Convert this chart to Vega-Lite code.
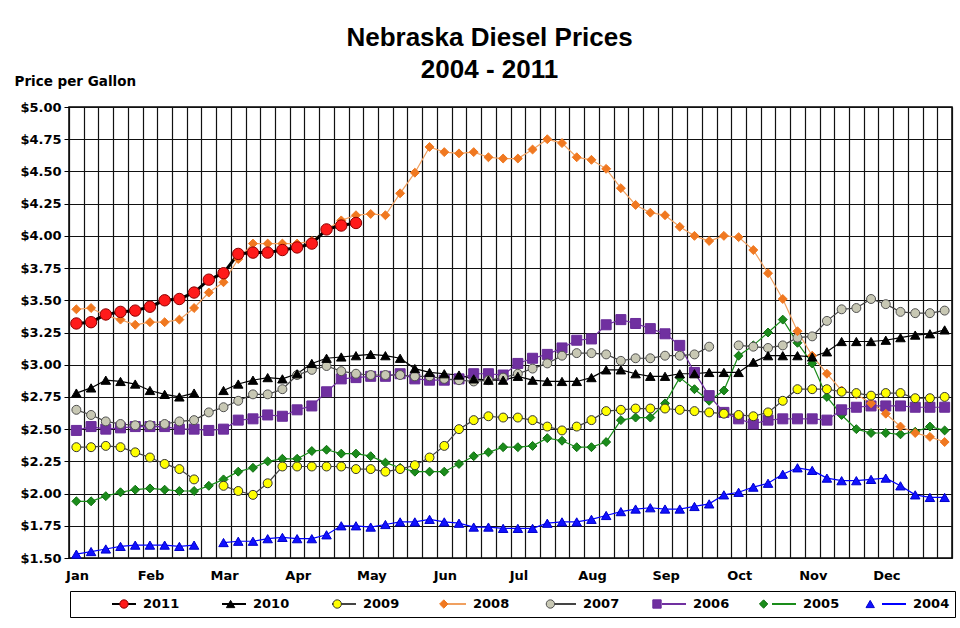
{
  "$schema": "https://vega.github.io/schema/vega-lite/v6.json",
  "width": 883,
  "height": 451,
  "autosize": {"type": "none"},
  "padding": {"left": 69, "top": 107, "right": 8, "bottom": 70},
  "background": "white",
  "config": {"view": {"stroke": "#000", "strokeWidth": 1.5}, "font": "DejaVu Sans"},
  "title": {"text": ["Nebraska Diesel Prices", "2004 - 2011"], "font": "Liberation Sans", "fontSize": 26, "fontWeight": "bold", "lineHeight": 32, "anchor": "middle", "frame": "group", "dx": -21, "offset": -9, "color": "#000"},
  "data": {"values": [
    {"slot":0,"2011":3.32,"2010":2.78,"2009":2.36,"2008":3.43,"2007":2.65,"2006":2.49,"2005":1.94,"2004":1.53},
    {"slot":1,"2011":3.33,"2010":2.82,"2009":2.36,"2008":3.44,"2007":2.61,"2006":2.52,"2005":1.94,"2004":1.55},
    {"slot":2,"2011":3.39,"2010":2.88,"2009":2.37,"2008":3.38,"2007":2.56,"2006":2.50,"2005":1.98,"2004":1.57},
    {"slot":3,"2011":3.41,"2010":2.87,"2009":2.36,"2008":3.35,"2007":2.54,"2006":2.51,"2005":2.01,"2004":1.59},
    {"slot":4,"2011":3.42,"2010":2.85,"2009":2.32,"2008":3.31,"2007":2.53,"2006":2.52,"2005":2.03,"2004":1.60},
    {"slot":5,"2011":3.45,"2010":2.80,"2009":2.28,"2008":3.33,"2007":2.53,"2006":2.52,"2005":2.04,"2004":1.60},
    {"slot":6,"2011":3.50,"2010":2.77,"2009":2.23,"2008":3.33,"2007":2.54,"2006":2.52,"2005":2.03,"2004":1.60},
    {"slot":7,"2011":3.51,"2010":2.75,"2009":2.19,"2008":3.35,"2007":2.56,"2006":2.50,"2005":2.02,"2004":1.59},
    {"slot":8,"2011":3.56,"2010":2.78,"2009":2.11,"2008":3.44,"2007":2.57,"2006":2.50,"2005":2.02,"2004":1.60},
    {"slot":9,"2011":3.66,"2008":3.56,"2007":2.63,"2006":2.49,"2005":2.06},
    {"slot":10,"2011":3.71,"2010":2.80,"2009":2.06,"2008":3.64,"2007":2.67,"2006":2.50,"2005":2.11,"2004":1.62},
    {"slot":11,"2011":3.86,"2010":2.85,"2009":2.02,"2008":3.82,"2007":2.72,"2006":2.57,"2005":2.17,"2004":1.63},
    {"slot":12,"2011":3.87,"2010":2.88,"2009":1.99,"2008":3.94,"2007":2.77,"2006":2.58,"2005":2.20,"2004":1.63},
    {"slot":13,"2011":3.87,"2010":2.90,"2009":2.08,"2008":3.94,"2007":2.77,"2006":2.61,"2005":2.25,"2004":1.65},
    {"slot":14,"2011":3.89,"2010":2.89,"2009":2.21,"2008":3.94,"2007":2.81,"2006":2.60,"2005":2.27,"2004":1.66},
    {"slot":15,"2011":3.91,"2010":2.93,"2009":2.21,"2008":3.94,"2007":2.92,"2006":2.65,"2005":2.27,"2004":1.65},
    {"slot":16,"2011":3.94,"2010":3.01,"2009":2.21,"2008":3.96,"2007":2.96,"2006":2.68,"2005":2.33,"2004":1.65},
    {"slot":17,"2011":4.05,"2010":3.05,"2009":2.21,"2008":4.05,"2007":2.99,"2006":2.79,"2005":2.34,"2004":1.68},
    {"slot":18,"2011":4.08,"2010":3.06,"2009":2.21,"2008":4.12,"2007":2.95,"2006":2.89,"2005":2.31,"2004":1.75},
    {"slot":19,"2011":4.10,"2010":3.07,"2009":2.19,"2008":4.16,"2007":2.93,"2006":2.90,"2005":2.31,"2004":1.75},
    {"slot":20,"2010":3.08,"2009":2.19,"2008":4.17,"2007":2.92,"2006":2.91,"2005":2.29,"2004":1.74},
    {"slot":21,"2010":3.07,"2009":2.17,"2008":4.16,"2007":2.92,"2006":2.91,"2005":2.24,"2004":1.76},
    {"slot":22,"2010":3.05,"2009":2.19,"2008":4.33,"2007":2.92,"2006":2.93,"2005":2.20,"2004":1.78},
    {"slot":23,"2010":2.97,"2009":2.22,"2008":4.49,"2007":2.91,"2006":2.89,"2005":2.17,"2004":1.78},
    {"slot":24,"2010":2.94,"2009":2.28,"2008":4.69,"2007":2.91,"2006":2.88,"2005":2.17,"2004":1.80},
    {"slot":25,"2010":2.93,"2009":2.37,"2008":4.65,"2007":2.89,"2006":2.88,"2005":2.17,"2004":1.78},
    {"slot":26,"2010":2.92,"2009":2.50,"2008":4.64,"2007":2.88,"2006":2.89,"2005":2.23,"2004":1.77},
    {"slot":27,"2010":2.89,"2009":2.57,"2008":4.65,"2007":2.87,"2006":2.93,"2005":2.29,"2004":1.74},
    {"slot":28,"2010":2.88,"2009":2.60,"2008":4.61,"2007":2.88,"2006":2.93,"2005":2.32,"2004":1.74},
    {"slot":29,"2010":2.88,"2009":2.59,"2008":4.60,"2007":2.90,"2006":2.92,"2005":2.36,"2004":1.73},
    {"slot":30,"2010":2.91,"2009":2.59,"2008":4.60,"2007":2.93,"2006":3.01,"2005":2.36,"2004":1.73},
    {"slot":31,"2010":2.88,"2009":2.57,"2008":4.67,"2007":2.97,"2006":3.05,"2005":2.37,"2004":1.73},
    {"slot":32,"2010":2.87,"2009":2.52,"2008":4.75,"2007":3.01,"2006":3.08,"2005":2.43,"2004":1.77},
    {"slot":33,"2010":2.87,"2009":2.49,"2008":4.72,"2007":3.07,"2006":3.13,"2005":2.41,"2004":1.78},
    {"slot":34,"2010":2.87,"2009":2.52,"2008":4.61,"2007":3.09,"2006":3.19,"2005":2.36,"2004":1.78},
    {"slot":35,"2010":2.90,"2009":2.57,"2008":4.59,"2007":3.09,"2006":3.20,"2005":2.36,"2004":1.80},
    {"slot":36,"2010":2.96,"2009":2.64,"2008":4.52,"2007":3.08,"2006":3.31,"2005":2.40,"2004":1.83},
    {"slot":37,"2010":2.96,"2009":2.65,"2008":4.37,"2007":3.03,"2006":3.35,"2005":2.57,"2004":1.86},
    {"slot":38,"2010":2.93,"2009":2.66,"2008":4.24,"2007":3.05,"2006":3.32,"2005":2.59,"2004":1.88},
    {"slot":39,"2010":2.91,"2009":2.66,"2008":4.18,"2007":3.05,"2006":3.28,"2005":2.59,"2004":1.89},
    {"slot":40,"2010":2.91,"2009":2.66,"2008":4.16,"2007":3.07,"2006":3.24,"2005":2.70,"2004":1.88},
    {"slot":41,"2010":2.93,"2009":2.65,"2008":4.07,"2007":3.07,"2006":3.15,"2005":2.90,"2004":1.88},
    {"slot":42,"2010":2.93,"2009":2.64,"2008":4.00,"2007":3.08,"2006":2.94,"2005":2.81,"2004":1.90},
    {"slot":43,"2010":2.94,"2009":2.63,"2008":3.96,"2007":3.14,"2006":2.76,"2005":2.72,"2004":1.92},
    {"slot":44,"2010":2.94,"2009":2.62,"2008":4.00,"2006":2.63,"2005":2.80,"2004":1.99},
    {"slot":45,"2010":2.94,"2009":2.61,"2008":3.99,"2007":3.15,"2006":2.58,"2005":3.07,"2004":2.01},
    {"slot":46,"2010":3.02,"2009":2.60,"2008":3.89,"2007":3.14,"2006":2.54,"2005":3.15,"2004":2.05},
    {"slot":47,"2010":3.07,"2009":2.63,"2008":3.71,"2007":3.13,"2006":2.57,"2005":3.25,"2004":2.08},
    {"slot":48,"2010":3.07,"2009":2.72,"2008":3.51,"2007":3.15,"2006":2.58,"2005":3.35,"2004":2.15},
    {"slot":49,"2010":3.07,"2009":2.81,"2008":3.26,"2007":3.21,"2006":2.58,"2005":3.17,"2004":2.20},
    {"slot":50,"2010":3.06,"2009":2.81,"2008":3.07,"2007":3.22,"2006":2.58,"2005":3.01,"2004":2.18},
    {"slot":51,"2010":3.10,"2009":2.81,"2008":2.93,"2007":3.34,"2006":2.57,"2005":2.75,"2004":2.12},
    {"slot":52,"2010":3.18,"2009":2.79,"2008":2.80,"2007":3.43,"2006":2.65,"2005":2.61,"2004":2.10},
    {"slot":53,"2010":3.18,"2009":2.78,"2008":2.77,"2007":3.44,"2006":2.67,"2005":2.50,"2004":2.10},
    {"slot":54,"2010":3.18,"2009":2.76,"2008":2.70,"2007":3.51,"2006":2.68,"2005":2.47,"2004":2.11},
    {"slot":55,"2010":3.19,"2009":2.78,"2008":2.62,"2007":3.47,"2006":2.68,"2005":2.47,"2004":2.12},
    {"slot":56,"2010":3.21,"2009":2.78,"2008":2.52,"2007":3.41,"2006":2.68,"2005":2.46,"2004":2.06},
    {"slot":57,"2010":3.23,"2009":2.74,"2008":2.47,"2007":3.40,"2006":2.67,"2005":2.48,"2004":1.99},
    {"slot":58,"2010":3.24,"2009":2.74,"2008":2.44,"2007":3.40,"2006":2.67,"2005":2.52,"2004":1.97},
    {"slot":59,"2010":3.27,"2009":2.75,"2008":2.40,"2007":3.42,"2006":2.67,"2005":2.49,"2004":1.97}
  ]},
  "transform": [{"fold": ["2004","2005","2006","2007","2008","2009","2010","2011"], "as": ["year","price"]}],
  "encoding": {
    "x": {"field": "slot", "type": "quantitative",
      "scale": {"domain": [-0.5, 59.5], "nice": false, "zero": false},
      "axis": {"values": [-0.5,0.5,1.5,2.5,3.5,4.5,5.5,6.5,7.5,8.5,9.5,10.5,11.5,12.5,13.5,14.5,15.5,16.5,17.5,18.5,19.5,20.5,21.5,22.5,23.5,24.5,25.5,26.5,27.5,28.5,29.5,30.5,31.5,32.5,33.5,34.5,35.5,36.5,37.5,38.5,39.5,40.5,41.5,42.5,43.5,44.5,45.5,46.5,47.5,48.5,49.5,50.5,51.5,52.5,53.5,54.5,55.5,56.5,57.5,58.5,59.5],
        "grid": true, "gridColor": "#111", "gridWidth": 1.2, "gridOpacity": 1,
        "ticks": false, "domain": false,
        "labelExpr": "(datum.value + 0.5) % 5 == 0 ? (['Jan','Feb','Mar','Apr','May','Jun','Jul','Aug','Sep','Oct','Nov','Dec'][(datum.value + 0.5) / 5] || '') : ''",
        "labelOffset": 8, "labelPadding": 11, "labelFont": "DejaVu Sans", "labelFontWeight": "bold", "labelFontSize": 13, "labelColor": "#000",
        "labelOverlap": false, "labelFlush": false, "labelAlign": "center", "title": null}
    },
    "y": {"field": "price", "type": "quantitative",
      "scale": {"domain": [1.5, 5], "nice": false, "zero": false},
      "axis": {"values": [1.5,1.75,2,2.25,2.5,2.75,3,3.25,3.5,3.75,4,4.25,4.5,4.75,5],
        "format": "$.2f", "grid": true, "gridColor": "#111", "gridWidth": 1.2, "gridOpacity": 1,
        "ticks": true, "tickSize": 5, "tickColor": "#000", "domain": false,
        "labelPadding": 3, "labelFont": "DejaVu Sans", "labelFontWeight": "bold", "labelFontSize": 13, "labelColor": "#000",
        "title": "Price per Gallon", "titleAngle": 0, "titleAlign": "left", "titleBaseline": "alphabetic",
        "titleX": -55, "titleY": -22, "titleFont": "DejaVu Sans", "titleFontWeight": "bold", "titleFontSize": 13.5, "titleColor": "#000"}
    }
  },
  "layer": [
    {
      "mark": {"type": "line", "invalid": "break-paths-show-domains"},
      "encoding": {
        "color": {"field": "year", "type": "nominal",
          "scale": {"domain": ["2011","2010","2009","2008","2007","2006","2005","2004"],
                    "range": ["#000000","#000000","#444444","#f0a060","#444444","#7030a0","#1a8c1a","#0000ff"]},
          "legend": {"orient": "none", "legendX": 1, "legendY": 484, "direction": "horizontal", "columns": 8, "gridAlign": "all",
            "columnPadding": 38, "symbolType": "stroke", "symbolSize": 576, "symbolStrokeWidth": 2,
            "labelOffset": 6, "labelFont": "DejaVu Sans", "labelFontWeight": "bold", "labelFontSize": 13, "labelColor": "#000",
            "title": " ", "titleOrient": "left", "titlePadding": 41, "titleFontSize": 13, "titleFont": "DejaVu Sans",
            "padding": 0}},
        "strokeWidth": {"condition": {"test": "datum.year == '2011'", "value": 3}, "value": 1.2}
      }
    },
    {
      "mark": {"type": "point", "filled": true, "opacity": 1},
      "encoding": {
        "fill": {"field": "year", "type": "nominal", "sort": "descending",
          "scale": {"range": ["#ff1a1a","#000000","#ffff00","#f07820","#c8c8b4","#7030a0","#1a8c1a","#1010ff"]},
          "legend": {"orient": "none", "legendX": 1, "legendY": 484, "direction": "horizontal", "columns": 8, "gridAlign": "all",
            "columnPadding": 8.6, "symbolSize": 70, "symbolStrokeWidth": 1,
            "labelOffset": 71.6, "labelFontSize": 26, "labelExpr": "''",
            "title": " ", "titleOrient": "left", "titlePadding": 41, "titleFontSize": 13, "titleFont": "DejaVu Sans",
            "padding": 0, "strokeColor": "#000"}},
        "stroke": {"field": "year", "type": "nominal", "sort": "descending",
          "scale": {"range": ["#8b0000","#000000","#333333","#f07820","#505050","#6a2c9a","#0f6e0f","#0000cc"]},
          "legend": {"orient": "none", "legendX": 1, "legendY": 484, "direction": "horizontal", "columns": 8, "gridAlign": "all",
            "columnPadding": 8.6, "symbolSize": 70, "symbolStrokeWidth": 1,
            "labelOffset": 71.6, "labelFontSize": 26, "labelExpr": "''",
            "title": " ", "titleOrient": "left", "titlePadding": 41, "titleFontSize": 13, "titleFont": "DejaVu Sans",
            "padding": 0, "strokeColor": "#000"}},
        "shape": {"field": "year", "type": "nominal", "sort": "descending",
          "scale": {"range": ["circle","triangle-up","circle","diamond","circle","square","diamond","triangle-up"]},
          "legend": {"orient": "none", "legendX": 1, "legendY": 484, "direction": "horizontal", "columns": 8, "gridAlign": "all",
            "columnPadding": 8.6, "symbolSize": 70, "symbolStrokeWidth": 1,
            "labelOffset": 71.6, "labelFontSize": 26, "labelExpr": "''",
            "title": " ", "titleOrient": "left", "titlePadding": 41, "titleFontSize": 13, "titleFont": "DejaVu Sans",
            "padding": 0, "strokeColor": "#000"}},
        "size": {"condition": [
          {"test": "datum.year == '2011'", "value": 130},
          {"test": "datum.year == '2006'", "value": 100},
          {"test": "datum.year == '2010' || datum.year == '2004'", "value": 90}], "value": 80},
        "strokeWidth": {"value": 1},
        "order": {"field": "year", "type": "ordinal", "sort": "ascending"}
      }
    }
  ]
}
